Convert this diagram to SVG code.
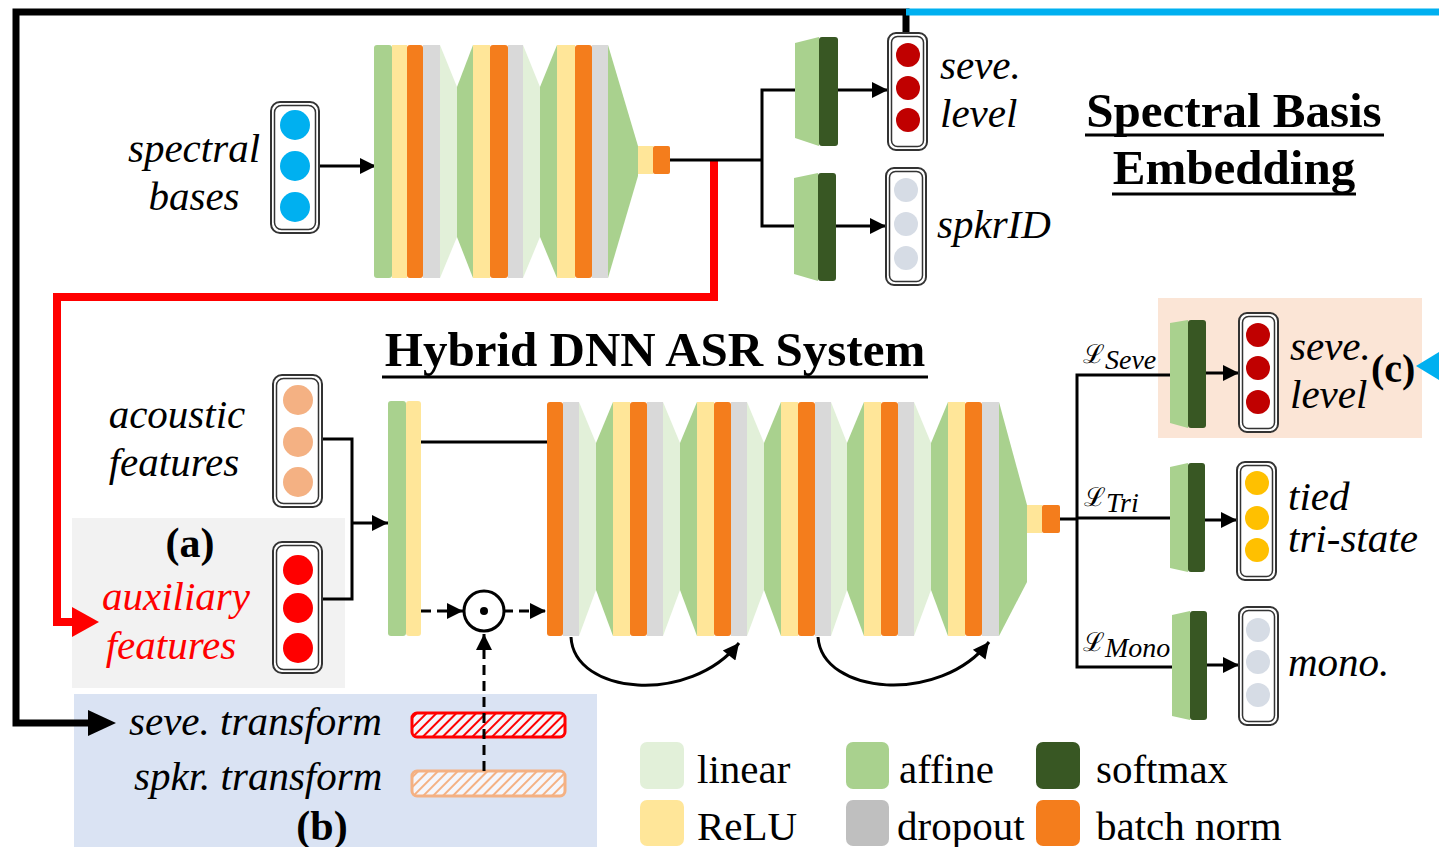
<svg xmlns="http://www.w3.org/2000/svg" width="1439" height="847" viewBox="0 0 1439 847">
<style>
.aff{fill:#a9d18e}.lin{fill:#e2f0d9}.relu{fill:#ffe699}.bn{fill:#f47d1c}.drop{fill:#d9d9d9}.soft{fill:#385723}
.it{font-family:"Liberation Serif",serif;font-style:italic;font-size:41px;fill:#000}
.rg{font-family:"Liberation Serif",serif;font-size:41px;fill:#000}
.bd{font-family:"Liberation Serif",serif;font-weight:bold;fill:#000}
.ob{fill:#fff;stroke:#333;stroke-width:2}
.ib{fill:none;stroke:#333;stroke-width:1.5}
.ln{fill:none;stroke:#000;stroke-width:3}
.dash{fill:none;stroke:#000;stroke-width:3;stroke-dasharray:10 6}
.ul{stroke:#000;stroke-width:3}
.lg{font-family:"DejaVu Serif",serif;font-size:26px}
.sub{font-family:"Liberation Serif",serif;font-style:italic;font-size:28px}
</style>
<defs>
<marker id="ah" viewBox="0 0 10 10" refX="10" refY="5" markerUnits="userSpaceOnUse" markerWidth="22" markerHeight="16" orient="auto"><path d="M0,0 L10,5 L0,10 z" fill="#000"/></marker>
<pattern id="hr" width="7" height="7" patternUnits="userSpaceOnUse" patternTransform="rotate(45)"><rect width="7" height="7" fill="#f4f6fc"/><line x1="1" y1="0" x2="1" y2="7" stroke="#ff0000" stroke-width="2"/></pattern>
<pattern id="ho" width="7" height="7" patternUnits="userSpaceOnUse" patternTransform="rotate(45)"><rect width="7" height="7" fill="#f4f6fc"/><line x1="1" y1="0" x2="1" y2="7" stroke="#f4b183" stroke-width="2"/></pattern>
</defs>

<!-- background regions -->
<g id="region-a"><rect x="72" y="518" width="273" height="170" fill="#f2f2f2"/></g>
<g id="region-b"><rect x="74" y="694" width="523" height="153" fill="#dae3f3"/></g>
<g id="region-c"><rect x="1158" y="298" width="264" height="140" fill="#fbe5d6"/></g>

<!-- connectors -->
<g id="connectors">
<polyline points="906,33 906,12 16,12 16,723 90,723" fill="none" stroke="#000" stroke-width="7"/>
<polygon points="116,723 88,710 88,736" fill="#000"/>
<line x1="906" y1="12" x2="1439" y2="12" stroke="#00b0f0" stroke-width="7"/>
<polygon points="1416,366 1439,352 1439,380" fill="#00b0f0"/>
<polyline points="714,160 714,297 57,297 57,622 75,622" fill="none" stroke="#ff0000" stroke-width="8"/>
<polygon points="99,622 72,607 72,637" fill="#ff0000"/>
<line x1="319" y1="166" x2="376" y2="166" class="ln" marker-end="url(#ah)"/>
<polyline points="670,160 762,160" class="ln"/>
<polyline points="795,90 762,90 762,226 794,226" class="ln"/>
<line x1="838" y1="90" x2="888" y2="90" class="ln" marker-end="url(#ah)"/>
<line x1="836" y1="226" x2="886" y2="226" class="ln" marker-end="url(#ah)"/>
<polyline points="322,439 352,439 352,599 322,599" class="ln"/>
<line x1="352" y1="523" x2="388" y2="523" class="ln" marker-end="url(#ah)"/>
<line x1="421" y1="442" x2="547" y2="442" class="ln"/>
<line x1="421" y1="611" x2="463" y2="611" class="dash" marker-end="url(#ah)"/>
<line x1="503" y1="611" x2="546" y2="611" class="dash" marker-end="url(#ah)"/>
<path d="M571,637 C574,695 690,705 739,643" class="ln" marker-end="url(#ah)"/>
<path d="M818,637 C822,695 940,705 989,642" class="ln" marker-end="url(#ah)"/>
<line x1="1060" y1="519" x2="1077" y2="519" class="ln"/>
<polyline points="1170,375 1077,375 1077,667 1172,667" class="ln"/>
<line x1="1077" y1="518" x2="1170" y2="518" class="ln"/>
<line x1="1206" y1="373" x2="1239" y2="373" class="ln" marker-end="url(#ah)"/>
<line x1="1204" y1="520" x2="1237" y2="520" class="ln" marker-end="url(#ah)"/>
<line x1="1207" y1="665" x2="1239" y2="665" class="ln" marker-end="url(#ah)"/>
</g>

<!-- spectral bases input -->
<g id="spectral-bases">
<rect x="271" y="102" width="48" height="131" rx="9" class="ob"/>
<rect x="274.5" y="105.5" width="41" height="124" rx="7" class="ib"/>
<circle cx="295" cy="125" r="15" fill="#00b0f0"/><circle cx="295" cy="166" r="15" fill="#00b0f0"/><circle cx="295" cy="207" r="15" fill="#00b0f0"/>
<text class="it" x="194" y="162" text-anchor="middle">spectral</text>
<text class="it" x="194" y="210" text-anchor="middle">bases</text>
</g>

<!-- top embedding network -->
<g id="embedding-net">
<rect x="374" y="45" width="18" height="233" rx="3" class="aff"/>
<rect x="392" y="45" width="15" height="233" class="relu"/>
<rect x="407" y="45" width="16" height="233" rx="3" class="bn"/>
<rect x="423" y="45" width="17" height="233" class="drop"/>
<polygon points="440,45 457,87 457,237 440,278" class="lin"/>
<polygon points="457,87 473,45 473,278 457,237" class="aff"/>
<rect x="473" y="45" width="17" height="233" class="relu"/>
<rect x="490" y="45" width="18" height="233" rx="3" class="bn"/>
<rect x="508" y="45" width="15" height="233" class="drop"/>
<polygon points="523,45 540,87 540,237 523,278" class="lin"/>
<polygon points="540,87 557,45 557,278 540,237" class="aff"/>
<rect x="557" y="45" width="18" height="233" class="relu"/>
<rect x="575" y="45" width="17" height="233" rx="3" class="bn"/>
<rect x="592" y="45" width="16" height="233" class="drop"/>
<polygon points="608,45 638,146 638,176 608,278" class="aff"/>
<rect x="638" y="146" width="15" height="28" class="relu"/>
<rect x="653" y="146" width="17" height="28" rx="2" class="bn"/>
</g>

<!-- top heads -->
<g id="head-seve-top">
<polygon points="795,43 819,37 819,146 795,138" class="aff"/>
<rect x="819" y="37" width="19" height="109" rx="3" class="soft"/>
<rect x="888" y="33" width="39" height="117" rx="8" class="ob"/>
<rect x="891.5" y="36.5" width="32" height="110" rx="6" class="ib"/>
<circle cx="908" cy="55" r="12" fill="#c00000"/><circle cx="908" cy="88" r="12" fill="#c00000"/><circle cx="908" cy="120" r="12" fill="#c00000"/>
<text class="it" x="940" y="79">seve.</text>
<text class="it" x="940" y="127">level</text>
</g>
<g id="head-spkr-top">
<polygon points="794,178 818,173 818,281 794,274" class="aff"/>
<rect x="818" y="173" width="18" height="108" rx="3" class="soft"/>
<rect x="886" y="168" width="40" height="117" rx="8" class="ob"/>
<rect x="889.5" y="171.5" width="33" height="110" rx="6" class="ib"/>
<circle cx="906" cy="190" r="12" fill="#d6dce5"/><circle cx="906" cy="224" r="12" fill="#d6dce5"/><circle cx="906" cy="258" r="12" fill="#d6dce5"/>
<text class="it" x="937" y="238">spkrID</text>
</g>

<g id="title-sbe">
<text class="bd" font-size="49" x="1234" y="127" text-anchor="middle">Spectral Basis</text>
<line x1="1085" y1="135" x2="1384" y2="135" class="ul"/>
<text class="bd" font-size="49" x="1234" y="184" text-anchor="middle">Embedding</text>
<line x1="1112" y1="194" x2="1356" y2="194" class="ul"/>
</g>
<g id="title-asr">
<text class="bd" font-size="49" x="655" y="366" text-anchor="middle">Hybrid DNN ASR System</text>
<line x1="382" y1="377" x2="928" y2="377" class="ul"/>
</g>

<!-- inputs -->
<g id="acoustic-features">
<rect x="273" y="375" width="49" height="132" rx="9" class="ob"/>
<rect x="276.5" y="378.5" width="42" height="125" rx="7" class="ib"/>
<circle cx="298" cy="400" r="15" fill="#f4b183"/><circle cx="298" cy="442" r="15" fill="#f4b183"/><circle cx="298" cy="482" r="15" fill="#f4b183"/>
<text class="it" x="177" y="428" text-anchor="middle">acoustic</text>
<text class="it" x="174" y="476" text-anchor="middle">features</text>
</g>
<g id="auxiliary-features">
<rect x="273" y="542" width="49" height="131" rx="9" class="ob"/>
<rect x="276.5" y="545.5" width="42" height="124" rx="7" class="ib"/>
<circle cx="298" cy="570" r="15" fill="#ff0000"/><circle cx="298" cy="608" r="15" fill="#ff0000"/><circle cx="298" cy="648" r="15" fill="#ff0000"/>
<text class="bd" font-size="42" x="190" y="557" text-anchor="middle">(a)</text>
<text class="it" x="176" y="610" text-anchor="middle" style="fill:#ff0000">auxiliary</text>
<text class="it" x="171" y="659" text-anchor="middle" style="fill:#ff0000">features</text>
</g>

<!-- transforms -->
<g id="transforms">
<rect x="412" y="713" width="153" height="24" rx="5" fill="url(#hr)" stroke="#ff0000" stroke-width="3"/>
<rect x="412" y="771" width="153" height="25" rx="5" fill="url(#ho)" stroke="#f4b183" stroke-width="3"/>
<line x1="484" y1="771" x2="484" y2="634" class="dash" marker-end="url(#ah)"/>
<text class="it" x="129" y="735">seve. transform</text>
<text class="it" x="134" y="790">spkr. transform</text>
<text class="bd" font-size="42" x="322" y="840" text-anchor="middle">(b)</text>
</g>

<g id="product">
<circle cx="484" cy="611" r="20" fill="#fff" stroke="#000" stroke-width="3"/>
<circle cx="484" cy="611" r="4" fill="#000"/>
</g>

<!-- ASR network -->
<g id="asr-input-layer">
<rect x="388" y="401" width="18" height="235" rx="3" class="aff"/>
<rect x="406" y="401" width="15" height="235" rx="3" class="relu"/>
</g>
<g id="asr-net">
<rect x="547" y="402" width="16" height="234" rx="3" class="bn"/>
<rect x="563" y="402" width="16" height="234" class="drop"/>
<polygon points="579,402 596,443 596,590 579,636" class="lin"/>
<polygon points="596,443 613,402 613,636 596,590" class="aff"/>
<rect x="613" y="402" width="17" height="234" class="relu"/>
<rect x="630" y="402" width="17" height="234" rx="3" class="bn"/>
<rect x="647" y="402" width="16" height="234" class="drop"/>
<polygon points="663,402 680,443 680,590 663,636" class="lin"/>
<polygon points="680,443 697,402 697,636 680,590" class="aff"/>
<rect x="697" y="402" width="17" height="234" class="relu"/>
<rect x="714" y="402" width="17" height="234" rx="3" class="bn"/>
<rect x="731" y="402" width="16" height="234" class="drop"/>
<polygon points="747,402 764,443 764,590 747,636" class="lin"/>
<polygon points="764,443 781,402 781,636 764,590" class="aff"/>
<rect x="781" y="402" width="17" height="234" class="relu"/>
<rect x="798" y="402" width="17" height="234" rx="3" class="bn"/>
<rect x="815" y="402" width="16" height="234" class="drop"/>
<polygon points="831,402 847,443 847,590 831,636" class="lin"/>
<polygon points="847,443 864,402 864,636 847,590" class="aff"/>
<rect x="864" y="402" width="17" height="234" class="relu"/>
<rect x="881" y="402" width="17" height="234" rx="3" class="bn"/>
<rect x="898" y="402" width="16" height="234" class="drop"/>
<polygon points="914,402 931,443 931,590 914,636" class="lin"/>
<polygon points="931,443 948,402 948,636 931,590" class="aff"/>
<rect x="948" y="402" width="17" height="234" class="relu"/>
<rect x="965" y="402" width="17" height="234" rx="3" class="bn"/>
<rect x="982" y="402" width="17" height="234" class="drop"/>
<polygon points="999,402 1027,505 1027,582 999,636" class="aff"/>
<rect x="1027" y="505" width="15" height="28" class="relu"/>
<rect x="1042" y="505" width="18" height="28" rx="2" class="bn"/>
</g>

<!-- right heads -->
<g id="head-seve">
<polygon points="1170,323 1188,320 1188,428 1170,423" class="aff"/>
<rect x="1188" y="320" width="18" height="108" rx="3" class="soft"/>
<rect x="1239" y="313" width="39" height="119" rx="8" class="ob"/>
<rect x="1242.5" y="316.5" width="32" height="112" rx="6" class="ib"/>
<circle cx="1258" cy="335" r="12" fill="#c00000"/><circle cx="1258" cy="368" r="12" fill="#c00000"/><circle cx="1258" cy="402" r="12" fill="#c00000"/>
<text class="it" x="1290" y="360">seve.</text>
<text class="it" x="1290" y="408">level</text>
<text class="bd" font-size="40" x="1371" y="382">(c)</text>
<text x="1083" y="363"><tspan class="lg">ℒ</tspan><tspan class="sub" dy="6">Seve</tspan></text>
</g>
<g id="head-tri">
<polygon points="1170,467 1188,463 1188,572 1170,568" class="aff"/>
<rect x="1188" y="463" width="17" height="109" rx="3" class="soft"/>
<rect x="1237" y="462" width="39" height="118" rx="8" class="ob"/>
<rect x="1240.5" y="465.5" width="32" height="111" rx="6" class="ib"/>
<circle cx="1257" cy="483" r="12" fill="#ffc000"/><circle cx="1257" cy="518" r="12" fill="#ffc000"/><circle cx="1257" cy="550" r="12" fill="#ffc000"/>
<text class="it" x="1288" y="510">tied</text>
<text class="it" x="1288" y="552">tri-state</text>
<text x="1084" y="506"><tspan class="lg">ℒ</tspan><tspan class="sub" dy="6">Tri</tspan></text>
</g>
<g id="head-mono">
<polygon points="1172,615 1190,611 1190,720 1172,716" class="aff"/>
<rect x="1190" y="611" width="17" height="109" rx="3" class="soft"/>
<rect x="1239" y="607" width="39" height="118" rx="8" class="ob"/>
<rect x="1242.5" y="610.5" width="32" height="111" rx="6" class="ib"/>
<circle cx="1258" cy="630" r="12" fill="#d6dce5"/><circle cx="1258" cy="662" r="12" fill="#d6dce5"/><circle cx="1258" cy="695" r="12" fill="#d6dce5"/>
<text class="it" x="1288" y="676">mono.</text>
<text x="1083" y="651"><tspan class="lg">ℒ</tspan><tspan class="sub" dy="6">Mono</tspan></text>
</g>

<!-- legend -->
<g id="legend">
<rect x="640" y="742" width="44" height="47" rx="7" class="lin"/>
<text class="rg" x="697" y="783">linear</text>
<rect x="846" y="742" width="43" height="47" rx="7" class="aff"/>
<text class="rg" x="899" y="783">affine</text>
<rect x="1036" y="742" width="44" height="47" rx="7" class="soft"/>
<text class="rg" x="1096" y="783">softmax</text>
<rect x="640" y="800" width="44" height="46" rx="7" class="relu"/>
<text class="rg" x="697" y="840">ReLU</text>
<rect x="846" y="800" width="43" height="46" rx="7" fill="#bfbfbf"/>
<text class="rg" x="897" y="840">dropout</text>
<rect x="1036" y="800" width="44" height="46" rx="7" class="bn"/>
<text class="rg" x="1096" y="840">batch norm</text>
</g>
</svg>
